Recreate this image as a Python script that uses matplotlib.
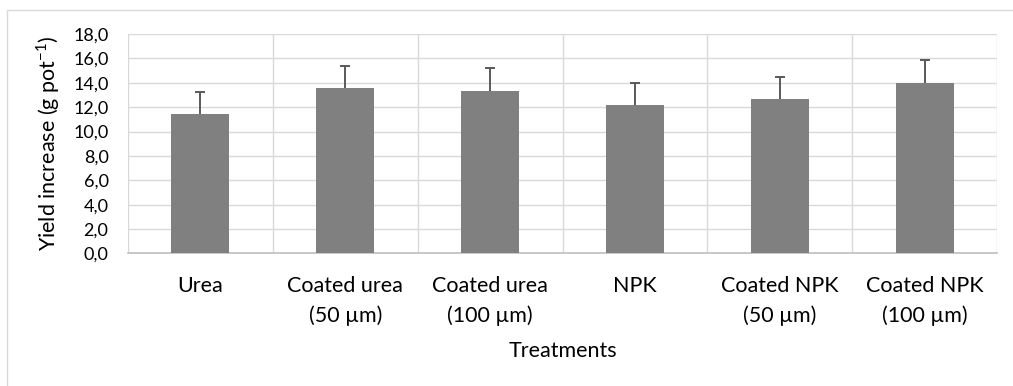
import matplotlib.pyplot as plt
import numpy as np

# treatments and yield increase (g pot-1), with error bars
treatments = ["Urea", "Coated urea\n(50 µm)", "Coated urea\n(100 µm)", "NPK",
              "Coated NPK\n(50 µm)", "Coated NPK\n(100 µm)"]
yield_inc = [11.45, 13.53, 13.34, 12.2, 12.65, 14.02]
yield_err = [1.81, 1.84, 1.84, 1.82, 1.81, 1.84]
yticks = [0, 2, 4, 6, 8, 10, 12, 14, 16, 18]

plt.rcParams['font.family'] = ['Lato', 'DejaVu Sans']
plt.rcParams['mathtext.fontset'] = 'custom'
plt.rcParams['mathtext.rm'] = 'Lato'

fig = plt.figure(figsize=(10.13, 3.86), dpi=100)
ax = fig.add_axes([128/1013, 1 - 253.4/386, 869/1013, 219.4/386])

# chart area border (only top and left edge show in the picture)
fig.add_artist(plt.Line2D([7/1013, 7/1013, 1], [0, 1 - 10/386, 1 - 10/386],
                          transform=fig.transFigure, color='#d9d9d9', linewidth=1))

x = np.arange(len(treatments))
tops = np.array(yield_inc) + np.array(yield_err)
ax.bar(x, yield_inc, width=0.4, color='#808080', zorder=3)
# only the upper half of the error bar
ax.vlines(x, yield_inc, tops, color='#595959', linewidth=1.4, zorder=4)
ax.plot(x, tops, linestyle='none', marker='_', markersize=7.5, markeredgewidth=1.4,
        color='#595959', zorder=4)

ax.set_xlim(-0.5, len(x) - 0.5)
ax.set_ylim(0, 18)
ax.set_yticks(yticks)
ax.set_yticklabels([f"{v:.1f}".replace('.', ',') for v in yticks], fontsize=13)
ax.set_xticks(x)
ax.set_xticklabels(treatments, fontsize=15.5, linespacing=1.6)
ax.set_xticks(np.arange(len(x) + 1) - 0.5, minor=True)

ax.grid(axis='y', color='#d9d9d9', linewidth=1, zorder=0)
ax.grid(axis='x', which='minor', color='#d9d9d9', linewidth=1, zorder=0)
ax.tick_params(axis='both', which='both', length=0)
ax.tick_params(axis='x', pad=16)
ax.tick_params(axis='y', pad=14)

for s in ['top', 'right', 'left']:
    ax.spines[s].set_visible(False)
ax.spines['bottom'].set_color('#bfbfbf')
ax.spines['bottom'].set_linewidth(1.2)

ax.set_xlabel("Treatments", fontsize=15.5, labelpad=11)
ax.set_ylabel("Yield increase (g pot$^{-1}$)", fontsize=15.5, labelpad=8)

fig.savefig("out.png", dpi=100)
